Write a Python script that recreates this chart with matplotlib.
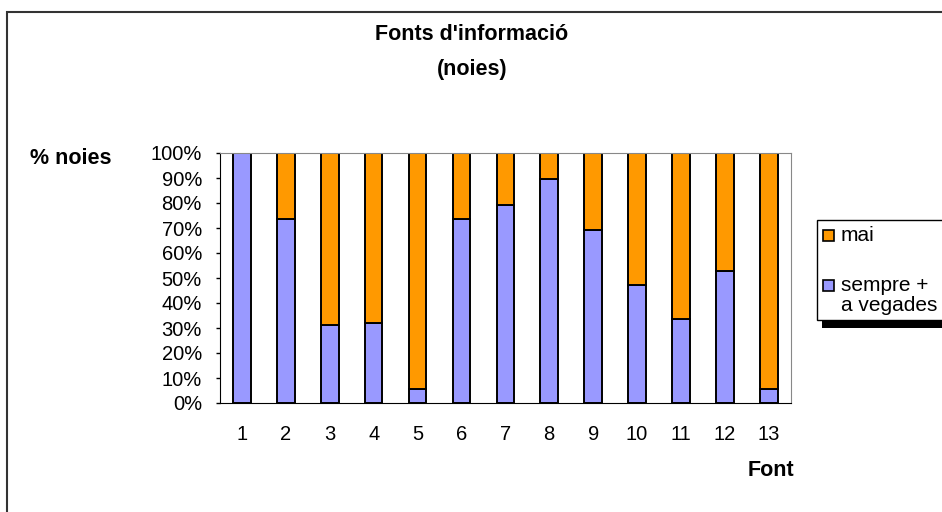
import matplotlib
matplotlib.use("Agg")
from matplotlib import pyplot as plt
from matplotlib.patches import Rectangle

plt.rcParams['font.family'] = ['Liberation Sans', 'DejaVu Sans']

fonts = ['1', '2', '3', '4', '5', '6', '7', '8', '9', '10', '11', '12', '13']
sempre = [100, 73.6, 31.2, 32.1, 5.7, 73.6, 79.2, 89.6, 69.1, 47.2, 33.6, 52.8, 5.7]
mai = [100 - v for v in sempre]
yticks = [0, 10, 20, 30, 40, 50, 60, 70, 80, 90, 100]
legend_labels = ['mai', 'sempre +\na vegades']

purple = '#9999FF'
orange = '#FF9900'

W, H = 942, 512


def fx(px):
    return px / W


def fy(py):
    return 1 - py / H


fig = plt.figure(figsize=(9.42, 5.12), dpi=100)
# outer chart frame (right and bottom run off the picture)
fig.patches.append(Rectangle((fx(7), -0.1), 1.2, fy(12) + 0.1,
                             transform=fig.transFigure, fill=False,
                             edgecolor='#333333', linewidth=1.5))

ax = fig.add_axes([fx(220), fy(403), 570.7 / W, 250 / H])
x = list(range(1, len(fonts) + 1))
b1 = ax.bar(x, sempre, width=0.4, color=purple, edgecolor='black', linewidth=1.4)
b2 = ax.bar(x, mai, bottom=sempre, width=0.4, color=orange, edgecolor='black',
            linewidth=1.4)

ax.set_xlim(0.5, 13.5)
ax.set_ylim(0, 100)
ax.set_yticks(yticks)
ax.set_yticklabels([f'{t}%' for t in yticks], fontsize=14.5)
ax.set_xticks(x)
ax.set_xticklabels(fonts, fontsize=14.5)
ax.tick_params(axis='x', length=0, pad=16)
ax.tick_params(axis='y', length=3, width=1, pad=10)
for s in ['top', 'right']:
    ax.spines[s].set_color('#888888')
ax.spines['left'].set_color('black')
ax.spines['bottom'].set_color('black')

fig.text(fx(472), fy(34), "Fonts d'informació", ha='center', va='center',
         fontsize=15.5, fontweight='bold')
fig.text(fx(472), fy(70), "(noies)", ha='center', va='center',
         fontsize=15.5, fontweight='bold')
fig.text(fx(71), fy(159), "% noies", ha='center', va='center',
         fontsize=15.5, fontweight='bold')
fig.text(fx(794), fy(470), "Font", ha='right', va='center',
         fontsize=15.5, fontweight='bold')

# legend box with black shadow, drawn by hand so the marker sits on the first line
fig.patches.append(Rectangle((fx(822), fy(328)), 0.3, 8 / H, transform=fig.transFigure,
                             facecolor='black', edgecolor='none', zorder=5))
fig.patches.append(Rectangle((fx(817), fy(320)), 0.3, 100 / H, transform=fig.transFigure,
                             facecolor='white', edgecolor='black', linewidth=1, zorder=6))
for color, label, ypx in [(orange, legend_labels[0], 235), (purple, legend_labels[1], 285)]:
    fig.patches.append(Rectangle((fx(823), fy(ypx + 5.5)), 11 / W, 11 / H,
                                 transform=fig.transFigure, facecolor=color,
                                 edgecolor='black', linewidth=1.2, zorder=7))
    fig.text(fx(841), fy(ypx - 9), label, ha='left', va='top', fontsize=15,
             linespacing=1.05, zorder=8)

fig.savefig('out.png', dpi=100)
